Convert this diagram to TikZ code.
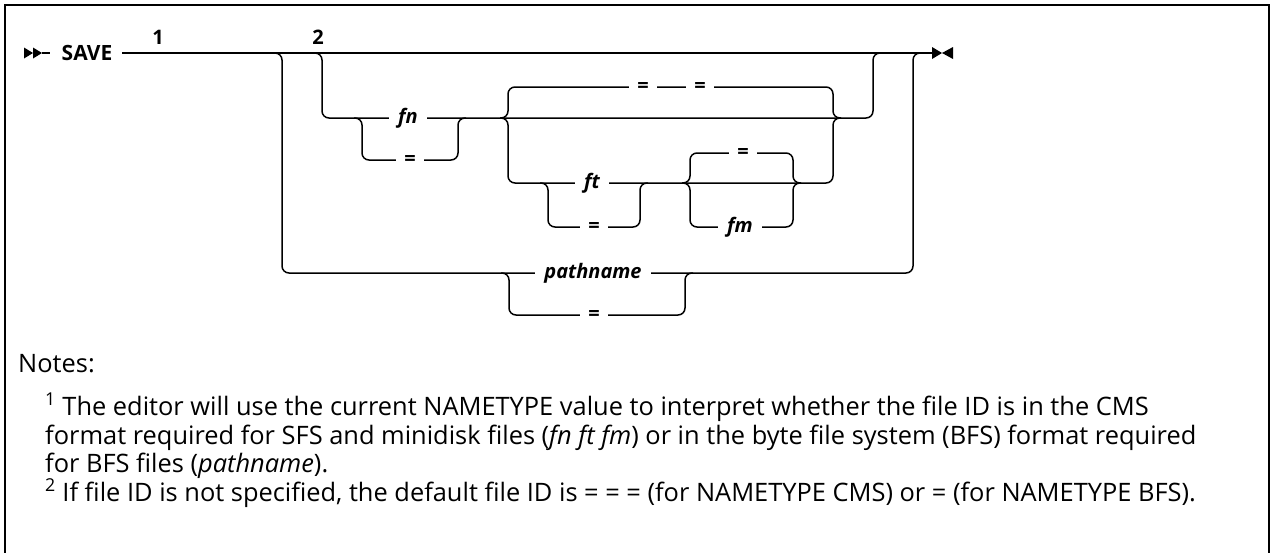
\documentclass[tikz,border=0pt]{standalone}
\usepackage{fontspec}
\setmainfont{Open Sans}
\begin{document}
\begin{tikzpicture}[x=1pt,y=-1pt,
  ln/.style={line width=1.5pt, rounded corners=7pt},
  kw/.style={font=\fontsize{20}{24}\selectfont\bfseries, fill=white, inner xsep=8pt, inner ysep=0pt},
  var/.style={font=\fontsize{20}{24}\selectfont\bfseries\itshape, fill=white, inner xsep=9pt, inner ysep=0pt},
  num/.style={font=\fontsize{20}{24}\selectfont\bfseries, inner sep=0pt},
  note/.style={font=\fontsize{25.4}{29}\selectfont, anchor=base west, inner sep=0pt}]
\useasboundingbox (0,0) rectangle (1273,552);
% frame
\draw[line width=2pt] (5,560) -- (5,5) -- (1269,5) -- (1269,560);
% start and end markers
\coordinate (st) at (24,53);
\coordinate (stE) at (50,53);
\fill (st) ++(0,-5.5) -- ++(9,5.5) -- ++(-9,5.5) -- cycle;
\fill (st) ++(9,-5.5) -- ++(9,5.5) -- ++(-9,5.5) -- cycle;
\draw[line width=1.5pt] (42,53) -- (stE);
\node[font=\fontsize{21}{24}\selectfont\bfseries, inner sep=0pt] (save) at (87,53) {SAVE};
\coordinate (m0) at (122,53);
\coordinate (mEnd) at (932,53);
\draw[line width=1.5pt] (m0) -- (mEnd);
\fill (mEnd) ++(0,-6) -- ++(10,6) -- ++(-10,6) -- cycle;
\fill (mEnd) ++(21,-6) -- ++(-11,6) -- ++(11,6) -- cycle;
\node[num] (n1) at (158,37) {1};
\node[num] (n2) at (318,37) {2};
% outer branch (pathname)
\coordinate (oS) at (274,53);
\coordinate (oV1) at (282,273);
\coordinate (oV2) at (913,53);
\coordinate (oE) at (921,53);
\draw[ln] (oS) -| (oV1) -| (oV2) -- (oE);
\coordinate (pS) at (501,273);
\coordinate (pV1) at (509,315);
\coordinate (pV2) at (685,273);
\coordinate (pE) at (693,273);
\draw[ln] (pS) -| (pV1) -| (pV2) -- (pE);
% inner branch (fn ft fm)
\coordinate (iS) at (314,53);
\coordinate (iV1) at (322,118);
\coordinate (iV2) at (873,53);
\coordinate (iE) at (881,53);
\draw[ln] (iS) -| (iV1) -| (iV2) -- (iE);
\coordinate (fS) at (354,118);
\coordinate (fV1) at (362,160);
\coordinate (fV2) at (458,118);
\coordinate (fE) at (466,118);
\draw[ln] (fS) -| (fV1) -| (fV2) -- (fE);
\coordinate (gS) at (500,118);
\coordinate (gT) at (508,87);
\coordinate (gB) at (508,183);
\coordinate (gV) at (833,118);
\coordinate (gE) at (841,118);
\draw[ln] (gS) -| (gT) -| (gV) -- (gE);
\draw[ln] (gS) -| (gB) -| (gV) -- (gE);
\coordinate (tS) at (540,183);
\coordinate (tV1) at (548,227);
\coordinate (tV2) at (640,183);
\coordinate (tE) at (648,183);
\draw[ln] (tS) -| (tV1) -| (tV2) -- (tE);
\coordinate (mS) at (682,183);
\coordinate (mT) at (690,153);
\coordinate (mB) at (690,227);
\coordinate (mV) at (793,183);
\coordinate (mE) at (801,183);
\draw[ln] (mS) -| (mT) -| (mV) -- (mE);
\draw[ln] (mS) -| (mB) -| (mV) -- (mE);
% labels on lines
\node[var] (fn) at (408,118) {fn};
\node[kw] (fneq) at (410,160) {=};
\node[kw] (eqA) at (643,87) {=};
\node[kw] (eqB) at (700,87) {=};
\node[var] (ft) at (592,183) {ft};
\node[kw] (fteq) at (594,227) {=};
\node[kw] (fmeq) at (743,153) {=};
\node[var] (fm) at (740,227) {fm};
\node[var] (pn) at (593,273) {pathname};
\node[kw] (pneq) at (594,315) {=};
% notes
\node[note] (notes) at (18,372) {Notes:};
\node[note] (l1) at (45,415) {\textsuperscript{1} The editor will use the current NAMETYPE value to interpret whether the file ID is in the CMS};
\node[note] (l2) at (45,444) {format required for SFS and minidisk files (\textit{fn ft fm}) or in the byte file system (BFS) format required};
\node[note] (l3) at (45,472) {for BFS files (\textit{pathname}).};
\node[note] (l4) at (45,501) {\textsuperscript{2} If file ID is not specified, the default file ID is = = = (for NAMETYPE CMS) or = (for NAMETYPE BFS).};
\end{tikzpicture}
\end{document}
